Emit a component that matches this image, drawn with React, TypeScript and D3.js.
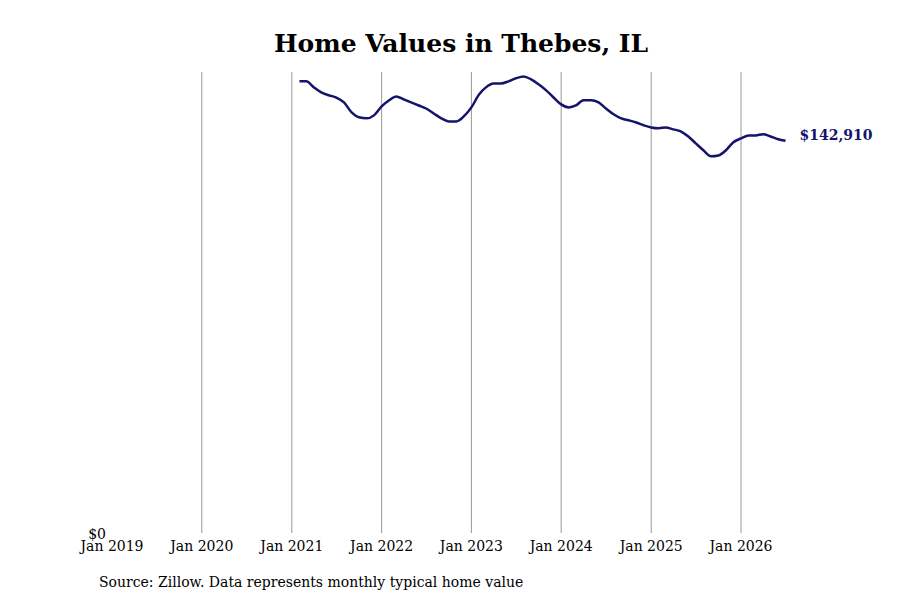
import React from "react";
import * as d3 from "d3";

// monthly typical home value, Feb 2021 .. Jul 2026
const startMonth = new Date(2021, 1, 1);
const homeValues = [
  164600, 164600, 162400, 160600, 159500, 158700, 156900, 153300, 151500, 151100, 152200,
  155500, 157700, 159100, 158000, 156900, 155800, 154700, 152900, 151100, 150000, 150000, 151800,
  155100, 159800, 162400, 163800, 163800, 164600, 165700, 166400, 165300, 163500, 161300, 158700,
  156200, 155100, 155800, 157700, 157700, 156900, 154700, 152600, 151100, 150400, 149600, 148600,
  147800, 147500, 147800, 147100, 146400, 144500, 142000, 139500, 137300, 137600, 139500, 142400,
  143800, 144900, 144900, 145300, 144500, 143500, 142910,
];
const tickYears = [2019, 2020, 2021, 2022, 2023, 2024, 2025, 2026];
const title = "Home Values in Thebes, IL";
const source = "Source: Zillow. Data represents monthly typical home value";

const W = 900;
const H = 600;
const FONT = "'DejaVu Serif', serif";

export default function App() {
  const x = d3
    .scaleTime()
    .domain([new Date(2019, 0, 1), new Date(2026, 0, 1)])
    .range([112, 741]);
  const y = d3.scaleLinear().domain([0, 168000]).range([533, 72]);

  const points = homeValues.map((v, i) => ({
    date: d3.timeMonth.offset(startMonth, i),
    value: v,
  }));
  const line = d3
    .line<{ date: Date; value: number }>()
    .x((d) => x(d.date))
    .y((d) => y(d.value))
    .curve(d3.curveMonotoneX);

  const last = points[points.length - 1];
  const fmt = d3.format("$,");

  return (
    <svg
      width={W}
      height={H}
      style={{ position: "absolute", left: 0, top: 0, background: "#fff" }}
    >
      <text
        x={461}
        y={52}
        textAnchor="middle"
        fontFamily={FONT}
        fontWeight="bold"
        fontSize={25}
      >
        {title}
      </text>
      {tickYears.slice(1).map((yr) => (
        <line
          key={"g" + yr}
          x1={x(new Date(yr, 0, 1))}
          x2={x(new Date(yr, 0, 1))}
          y1={y.range()[1]}
          y2={y.range()[0]}
          stroke="#999"
          strokeWidth={1}
        />
      ))}
      {tickYears.map((yr) => (
        <text
          key={"t" + yr}
          x={x(new Date(yr, 0, 1))}
          y={551}
          textAnchor="middle"
          fontFamily={FONT}
          fontSize={14}
        >
          {"Jan " + yr}
        </text>
      ))}
      <text x={106} y={539} textAnchor="end" fontFamily={FONT} fontSize={14}>
        {fmt(0)}
      </text>
      <path
        d={line(points) || ""}
        fill="none"
        stroke="#14146b"
        strokeWidth={2.5}
        strokeLinejoin="round"
      />
      <text
        x={x(last.date) + 14}
        y={y(last.value) - 5}
        dominantBaseline="middle"
        fontFamily={FONT}
        fontWeight="bold"
        fontSize={14}
        fill="#14146b"
      >
        {fmt(last.value)}
      </text>
      <text x={99} y={587} fontFamily={FONT} fontSize={14}>
        {source}
      </text>
    </svg>
  );
}
